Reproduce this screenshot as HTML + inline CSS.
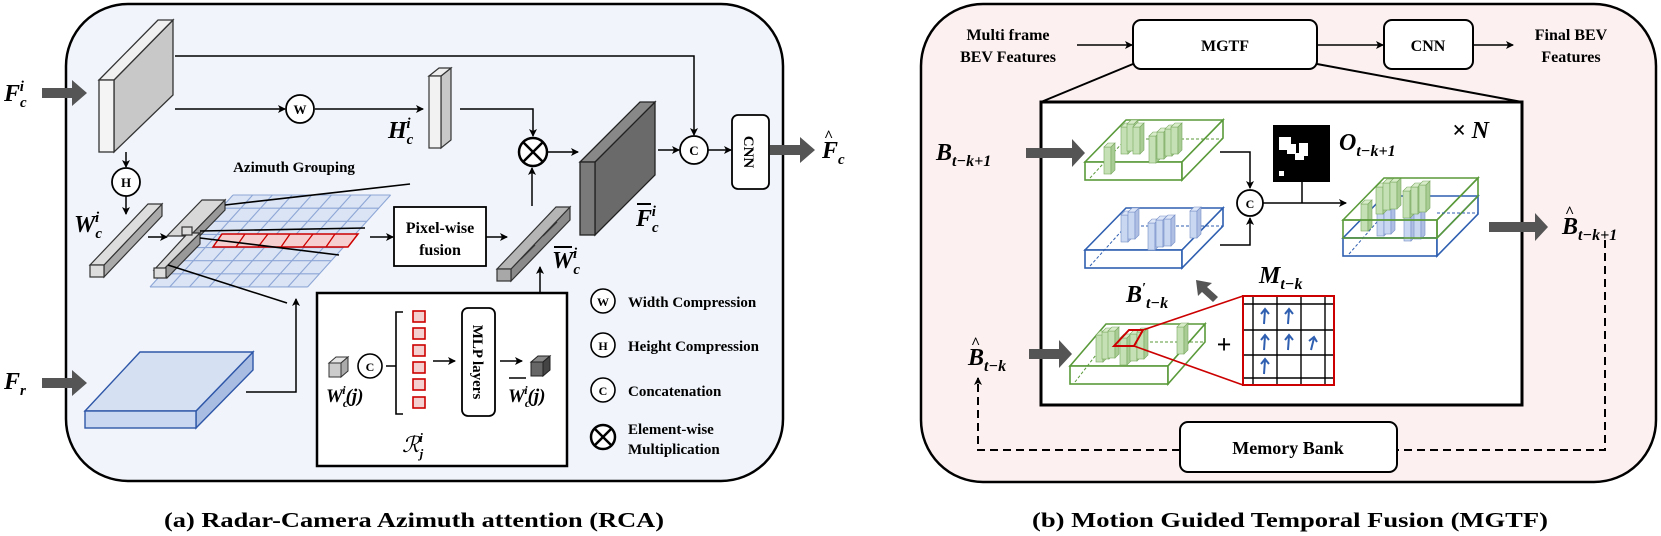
<!DOCTYPE html>
<html><head><meta charset="utf-8"><style>
html,body{margin:0;padding:0;background:#fff;}
svg{display:block;font-family:"Liberation Serif","Times New Roman",serif;}
text{font-family:"Liberation Serif","Times New Roman",serif;}
.b{font-weight:bold;}
.m{font-weight:bold;font-style:italic;}
</style></head><body>
<svg width="1661" height="536" viewBox="0 0 1661 536" xmlns="http://www.w3.org/2000/svg" font-family="Liberation Serif, serif">
<defs>
<marker id="ar" markerWidth="8" markerHeight="8" refX="7" refY="4" orient="auto" markerUnits="userSpaceOnUse"><path d="M0,0 L8,4 L0,8 L2,4 Z" fill="#000"/></marker>
<g id="gbar"><rect x="0" y="-5" width="7" height="27" fill="#c5e0b4" stroke="#7aa860" stroke-width="0.6"/><polygon points="0,-5 4,-9 11,-9 7,-5" fill="#d9ecca" stroke="#7aa860" stroke-width="0.6"/><polygon points="7,-5 11,-9 11,18 7,22" fill="#a9cc95" stroke="#7aa860" stroke-width="0.6"/></g>
<g id="bbar"><rect x="0" y="-5" width="7" height="27" fill="#c9d7f0" stroke="#7890c8" stroke-width="0.6"/><polygon points="0,-5 4,-9 11,-9 7,-5" fill="#dde6f7" stroke="#7890c8" stroke-width="0.6"/><polygon points="7,-5 11,-9 11,18 7,22" fill="#aebfe3" stroke="#7890c8" stroke-width="0.6"/></g>
</defs>

<!-- LEFT PANEL -->
<rect x="66" y="4" width="717" height="477" rx="62" fill="#f1f5fb" stroke="#000" stroke-width="2.5"/>
<text x="4" y="101" class="m" font-size="24">F<tspan font-size="15" dy="6">c</tspan><tspan font-size="15" dx="-7" dy="-16">i</tspan></text>
<polygon points="42,88 72,88 72,80 87,93 72,106 72,98 42,98" fill="#555"/>
<text x="4" y="389" class="m" font-size="24">F<tspan font-size="15" dy="6">r</tspan></text>
<polygon points="42,378 72,378 72,370 87,383 72,396 72,388 42,388" fill="#555"/>

<polygon points="114,80 173,20 173,95 114,152" fill="#c8c8c8" stroke="#333" stroke-width="1.3"/>
<polygon points="99,80 158,20 173,20 114,80" fill="#f0f0f0" stroke="#333" stroke-width="1.3"/>
<rect x="99" y="80" width="15" height="72" fill="#f4f4f4" stroke="#333" stroke-width="1.3"/>

<polyline points="175,56 694,56 694,135" fill="none" stroke="#000" stroke-width="1.5" marker-end="url(#ar)"/>
<line x1="175" y1="109" x2="285" y2="109" stroke="#000" stroke-width="1.5" marker-end="url(#ar)"/>
<circle cx="300" cy="109" r="14" fill="#fff" stroke="#000" stroke-width="1.8"/>
<text x="300" y="114" text-anchor="middle" font-size="13" class="b">W</text>
<line x1="315" y1="109" x2="423" y2="109" stroke="#000" stroke-width="1.5" marker-end="url(#ar)"/>
<polygon points="441,76 451,68 451,140 441,148" fill="#c8c8c8" stroke="#333" stroke-width="1.2"/>
<polygon points="429,76 439,68 451,68 441,76" fill="#eee" stroke="#333" stroke-width="1.2"/>
<rect x="429" y="76" width="12" height="72" fill="#f2f2f2" stroke="#333" stroke-width="1.2"/>
<text x="388" y="138" class="m" font-size="24">H<tspan font-size="15" dy="6">c</tspan><tspan font-size="15" dx="-7" dy="-16">i</tspan></text>
<polyline points="460,109 533,109 533,136" fill="none" stroke="#000" stroke-width="1.5" marker-end="url(#ar)"/>
<circle cx="533" cy="152" r="14" fill="#fff" stroke="#000" stroke-width="2.5"/>
<line x1="523" y1="142" x2="543" y2="162" stroke="#000" stroke-width="2.5"/>
<line x1="543" y1="142" x2="523" y2="162" stroke="#000" stroke-width="2.5"/>
<line x1="548" y1="152" x2="578" y2="152" stroke="#000" stroke-width="1.5" marker-end="url(#ar)"/>
<polygon points="595,162 655,102 655,175 595,235" fill="#6a6a6a" stroke="#222" stroke-width="1.3"/>
<polygon points="580,162 640,102 655,102 595,162" fill="#888" stroke="#222" stroke-width="1.3"/>
<rect x="580" y="162" width="15" height="73" fill="#7a7a7a" stroke="#222" stroke-width="1.3"/>
<text x="636" y="226" class="m" font-size="24">F<tspan font-size="15" dy="6">c</tspan><tspan font-size="15" dx="-7" dy="-16">i</tspan></text>
<line x1="637" y1="204" x2="651" y2="204" stroke="#000" stroke-width="2"/>
<line x1="658" y1="150" x2="679" y2="150" stroke="#000" stroke-width="1.5" marker-end="url(#ar)"/>
<circle cx="694" cy="150" r="14" fill="#fff" stroke="#000" stroke-width="1.8"/>
<text x="694" y="155" text-anchor="middle" font-size="13" class="b">C</text>
<line x1="708" y1="150" x2="731" y2="150" stroke="#000" stroke-width="1.5" marker-end="url(#ar)"/>
<rect x="732" y="115" width="37" height="74" rx="6" fill="#fff" stroke="#000" stroke-width="1.8"/>
<text x="0" y="0" transform="translate(744,152) rotate(90)" text-anchor="middle" font-size="15" class="b">CNN</text>
<polygon points="770,145 800,145 800,137 815,150 800,163 800,155 770,155" fill="#555"/>
<text x="822" y="158" class="m" font-size="24">F<tspan font-size="15" dy="6">c</tspan></text>
<text x="824" y="141" class="b" font-size="16">^</text>

<line x1="126" y1="152" x2="126" y2="167" stroke="#000" stroke-width="1.5" marker-end="url(#ar)"/>
<circle cx="126" cy="182" r="14" fill="#fff" stroke="#000" stroke-width="1.8"/>
<text x="126" y="187" text-anchor="middle" font-size="13" class="b">H</text>
<line x1="126" y1="196" x2="126" y2="214" stroke="#000" stroke-width="1.5" marker-end="url(#ar)"/>
<polygon points="104,265 162,204 162,216 104,277" fill="#aaa" stroke="#333" stroke-width="1.2"/>
<polygon points="90,265 148,204 162,204 104,265" fill="#ddd" stroke="#333" stroke-width="1.2"/>
<rect x="90" y="265" width="14" height="12" fill="#ddd" stroke="#333" stroke-width="1.2"/>
<text x="74" y="232" class="m" font-size="24">W<tspan font-size="15" dy="6">c</tspan><tspan font-size="15" dx="-7" dy="-16">i</tspan></text>
<line x1="148" y1="237" x2="167" y2="237" stroke="#000" stroke-width="1.5" marker-end="url(#ar)"/>

<text x="294" y="172" text-anchor="middle" font-size="15" class="b">Azimuth Grouping</text>
<g transform="matrix(19.7,0,-11.86,13.14,233,195)">
<polygon points="0,0 8,0 8,7 0,7" fill="#d5e0f3" fill-opacity="0.8"/>
<g stroke="#8ea6d6" stroke-width="1.1" fill="none">
<line x1="0" y1="0" x2="8" y2="0" vector-effect="non-scaling-stroke"/><line x1="0" y1="1" x2="8" y2="1" vector-effect="non-scaling-stroke"/><line x1="0" y1="2" x2="8" y2="2" vector-effect="non-scaling-stroke"/><line x1="0" y1="3" x2="8" y2="3" vector-effect="non-scaling-stroke"/><line x1="0" y1="4" x2="8" y2="4" vector-effect="non-scaling-stroke"/><line x1="0" y1="5" x2="8" y2="5" vector-effect="non-scaling-stroke"/><line x1="0" y1="6" x2="8" y2="6" vector-effect="non-scaling-stroke"/><line x1="0" y1="7" x2="8" y2="7" vector-effect="non-scaling-stroke"/>
<line x1="0" y1="0" x2="0" y2="7" vector-effect="non-scaling-stroke"/><line x1="1" y1="0" x2="1" y2="7" vector-effect="non-scaling-stroke"/><line x1="2" y1="0" x2="2" y2="7" vector-effect="non-scaling-stroke"/><line x1="3" y1="0" x2="3" y2="7" vector-effect="non-scaling-stroke"/><line x1="4" y1="0" x2="4" y2="7" vector-effect="non-scaling-stroke"/><line x1="5" y1="0" x2="5" y2="7" vector-effect="non-scaling-stroke"/><line x1="6" y1="0" x2="6" y2="7" vector-effect="non-scaling-stroke"/><line x1="7" y1="0" x2="7" y2="7" vector-effect="non-scaling-stroke"/><line x1="8" y1="0" x2="8" y2="7" vector-effect="non-scaling-stroke"/>
</g></g>
<polygon points="222,234 358,234 348,247 213,247" fill="#f6d0d0" stroke="#cc0000" stroke-width="1.5"/>
<g stroke="#cc0000" stroke-width="1.3"><line x1="245" y1="234" x2="236" y2="247"/><line x1="268" y1="234" x2="258" y2="247"/><line x1="290" y1="234" x2="281" y2="247"/><line x1="313" y1="234" x2="303" y2="247"/><line x1="335" y1="234" x2="326" y2="247"/></g>
<polygon points="202,200 225,200 190,236 167,236" fill="#d8d8d8" stroke="#333" stroke-width="1.2"/>
<polygon points="225,200 225,210 190,246 190,236" fill="#999" stroke="#333" stroke-width="1.2"/>
<polygon points="188,233 200,233 163,270 154,270" fill="#d8d8d8" stroke="#333" stroke-width="1.2"/>
<polygon points="200,233 200,244 167,278 163,270" fill="#999" stroke="#333" stroke-width="1.2"/>
<rect x="154" y="268" width="12" height="10" fill="#ddd" stroke="#333" stroke-width="1.2"/>
<rect x="182" y="227" width="10" height="8" fill="#ddd" stroke="#333" stroke-width="1.2"/>
<g stroke="#000" stroke-width="1.6"><line x1="225" y1="205" x2="410" y2="184"/><line x1="200" y1="231" x2="365" y2="228"/><line x1="200" y1="238" x2="339" y2="255"/><line x1="168" y1="265" x2="287" y2="303"/></g>
<line x1="370" y1="237" x2="393" y2="237" stroke="#000" stroke-width="1.5" marker-end="url(#ar)"/>
<rect x="394" y="207" width="92" height="59" fill="#fff" stroke="#000" stroke-width="1.8"/>
<text x="440" y="233" text-anchor="middle" font-size="16" class="b">Pixel-wise</text>
<text x="440" y="255" text-anchor="middle" font-size="16" class="b">fusion</text>
<line x1="486" y1="237" x2="507" y2="237" stroke="#000" stroke-width="1.5" marker-end="url(#ar)"/>
<polygon points="511,269 570,207 570,220 511,281" fill="#8a8a8a" stroke="#333" stroke-width="1.2"/>
<polygon points="497,269 556,207 570,207 511,269" fill="#b5b5b5" stroke="#333" stroke-width="1.2"/>
<rect x="497" y="269" width="14" height="12" fill="#a8a8a8" stroke="#333" stroke-width="1.2"/>
<line x1="521" y1="259" x2="535" y2="245" stroke="#333" stroke-width="1.2"/>
<line x1="543" y1="236" x2="557" y2="222" stroke="#333" stroke-width="1.2"/>
<text x="552" y="268" class="m" font-size="24">W<tspan font-size="15" dy="6">c</tspan><tspan font-size="15" dx="-7" dy="-16">i</tspan></text>
<line x1="554" y1="247" x2="572" y2="247" stroke="#000" stroke-width="2"/>
<line x1="532" y1="206" x2="532" y2="168" stroke="#000" stroke-width="1.5" marker-end="url(#ar)"/>
<line x1="540" y1="351" x2="540" y2="267" stroke="#000" stroke-width="1.5" marker-end="url(#ar)"/>

<polygon points="196,411 253,352 253,370 196,428" fill="#a9bde3" stroke="#2f57a8" stroke-width="1.4"/>
<polygon points="85,411 140,352 253,352 196,411" fill="#d5e0f3" stroke="#2f57a8" stroke-width="1.4"/>
<rect x="85" y="411" width="111" height="17" fill="#c9d7f0" stroke="#2f57a8" stroke-width="1.4"/>
<polyline points="246,392 296,392 296,299" fill="none" stroke="#000" stroke-width="1.5" marker-end="url(#ar)"/>

<rect x="317" y="293" width="250" height="173" fill="#fff" stroke="#000" stroke-width="2.5"/>
<polygon points="329,363 336,357 348,357 341,363" fill="#e6e6e6" stroke="#333"/>
<polygon points="341,363 348,357 348,371 341,377" fill="#aaa" stroke="#333"/>
<rect x="329" y="363" width="12" height="14" fill="#ccc" stroke="#333"/>
<circle cx="370" cy="366" r="12" fill="#fff" stroke="#000" stroke-width="1.6"/>
<text x="370" y="371" text-anchor="middle" font-size="12" class="b">C</text>
<text x="326" y="402" class="m" font-size="19">W<tspan font-size="12" dy="5">c</tspan><tspan font-size="12" dx="-6" dy="-13">i</tspan><tspan font-size="19" dy="8" font-style="italic">(j)</tspan></text>
<path d="M403,312 L396,312 L396,414 L403,414 M396,366 L386,366" fill="none" stroke="#000" stroke-width="1.6"/>
<g fill="#f5d0d0" stroke="#cc0000" stroke-width="1.6">
<rect x="413" y="311" width="12" height="11"/><rect x="413" y="328" width="12" height="11"/><rect x="413" y="345" width="12" height="11"/><rect x="413" y="362" width="12" height="11"/><rect x="413" y="379" width="12" height="11"/><rect x="413" y="397" width="12" height="11"/></g>
<line x1="433" y1="361" x2="455" y2="361" stroke="#000" stroke-width="1.5" marker-end="url(#ar)"/>
<rect x="462" y="308" width="33" height="108" rx="6" fill="#fff" stroke="#000" stroke-width="1.8"/>
<text transform="translate(473,362) rotate(90)" text-anchor="middle" font-size="15" class="b">MLP layers</text>
<line x1="500" y1="361" x2="522" y2="361" stroke="#000" stroke-width="1.5" marker-end="url(#ar)"/>
<polygon points="531,362 538,356 550,356 543,362" fill="#888" stroke="#222"/>
<polygon points="543,362 550,356 550,370 543,376" fill="#444" stroke="#222"/>
<rect x="531" y="362" width="12" height="14" fill="#666" stroke="#222"/>
<text x="508" y="402" class="m" font-size="19">W<tspan font-size="12" dy="5">c</tspan><tspan font-size="12" dx="-6" dy="-13">i</tspan><tspan font-size="19" dy="8" font-style="italic">(j)</tspan></text>
<line x1="509" y1="378" x2="526" y2="378" stroke="#000" stroke-width="1.5"/>
<text x="402" y="452" font-size="22" font-style="italic" font-family="DejaVu Serif,serif">ℛ<tspan font-size="13" dy="6" class="m">j</tspan><tspan font-size="13" dx="-4" dy="-16" class="m">i</tspan></text>

<circle cx="603" cy="301" r="12" fill="#fff" stroke="#000" stroke-width="1.6"/><text x="603" y="306" text-anchor="middle" font-size="12" class="b">W</text>
<text x="628" y="307" font-size="15" class="b">Width Compression</text>
<circle cx="603" cy="345" r="12" fill="#fff" stroke="#000" stroke-width="1.6"/><text x="603" y="350" text-anchor="middle" font-size="12" class="b">H</text>
<text x="628" y="351" font-size="15" class="b">Height Compression</text>
<circle cx="603" cy="390" r="12" fill="#fff" stroke="#000" stroke-width="1.6"/><text x="603" y="395" text-anchor="middle" font-size="12" class="b">C</text>
<text x="628" y="396" font-size="15" class="b">Concatenation</text>
<circle cx="603" cy="437" r="12" fill="#fff" stroke="#000" stroke-width="2.5"/>
<line x1="595" y1="429" x2="611" y2="445" stroke="#000" stroke-width="2.5"/><line x1="611" y1="429" x2="595" y2="445" stroke="#000" stroke-width="2.5"/>
<text x="628" y="434" font-size="15" class="b">Element-wise</text>
<text x="628" y="454" font-size="15" class="b">Multiplication</text>

<text x="414" y="527" text-anchor="middle" font-size="21" class="b" textLength="500" lengthAdjust="spacingAndGlyphs">(a) Radar-Camera Azimuth attention (RCA)</text>

<!-- RIGHT PANEL -->
<rect x="921" y="4" width="735" height="478" rx="62" fill="#fcf0f0" stroke="#000" stroke-width="2.5"/>
<text x="1008" y="40" text-anchor="middle" font-size="16" class="b">Multi frame</text>
<text x="1008" y="62" text-anchor="middle" font-size="16" class="b">BEV Features</text>
<line x1="1077" y1="45" x2="1132" y2="45" stroke="#000" stroke-width="1.5" marker-end="url(#ar)"/>
<rect x="1133" y="20" width="184" height="49" rx="8" fill="#fff" stroke="#000" stroke-width="2"/>
<text x="1225" y="51" text-anchor="middle" font-size="16" class="b">MGTF</text>
<line x1="1317" y1="45" x2="1383" y2="45" stroke="#000" stroke-width="1.5" marker-end="url(#ar)"/>
<rect x="1384" y="20" width="89" height="49" rx="8" fill="#fff" stroke="#000" stroke-width="2"/>
<text x="1428" y="51" text-anchor="middle" font-size="16" class="b">CNN</text>
<line x1="1473" y1="45" x2="1513" y2="45" stroke="#000" stroke-width="1.5" marker-end="url(#ar)"/>
<text x="1571" y="40" text-anchor="middle" font-size="16" class="b">Final BEV</text>
<text x="1571" y="62" text-anchor="middle" font-size="16" class="b">Features</text>
<line x1="1133" y1="64" x2="1041" y2="102" stroke="#000" stroke-width="2"/>
<line x1="1317" y1="64" x2="1522" y2="102" stroke="#000" stroke-width="2"/>
<rect x="1041" y="102" width="481" height="303" fill="#fff" stroke="#000" stroke-width="3"/>

<text x="936" y="160" class="m" font-size="24">B<tspan font-size="16" dy="6">t−k+1</tspan></text>
<polygon points="1026,148 1072,148 1072,139 1085,153 1072,167 1072,158 1026,158" fill="#555"/>
<g fill="none" stroke="#5a9a3a" stroke-width="1.6">
<polygon points="1085,162 1126,120 1223,120 1182,162" fill="#fff"/>
<rect x="1085" y="162" width="97" height="18" fill="#fff"/>
<polygon points="1182,162 1223,120 1223,138 1182,180" fill="#fff"/>
<line x1="1126" y1="139" x2="1223" y2="139" stroke-dasharray="3,2" stroke-width="1"/>
<line x1="1090" y1="178" x2="1126" y2="139" stroke-dasharray="3,2" stroke-width="1"/>
</g>
<use href="#gbar" x="1104" y="152"/><use href="#gbar" x="1121" y="132"/><use href="#gbar" x="1127" y="129"/><use href="#gbar" x="1133" y="132"/><use href="#gbar" x="1149" y="141"/><use href="#gbar" x="1157" y="137"/><use href="#gbar" x="1165" y="134"/><use href="#gbar" x="1171" y="132"/>
<g fill="none" stroke="#2f5fb0" stroke-width="1.6">
<polygon points="1085,250 1126,208 1223,208 1182,250" fill="#fff"/>
<rect x="1085" y="250" width="97" height="18" fill="#fff"/>
<polygon points="1182,250 1223,208 1223,226 1182,268" fill="#fff"/>
<line x1="1126" y1="226" x2="1223" y2="226" stroke-dasharray="3,2" stroke-width="1"/>
<line x1="1090" y1="266" x2="1126" y2="226" stroke-dasharray="3,2" stroke-width="1"/>
</g>
<use href="#bbar" x="1121" y="220"/><use href="#bbar" x="1128" y="217"/><use href="#bbar" x="1148" y="228"/><use href="#bbar" x="1156" y="225"/><use href="#bbar" x="1164" y="224"/><use href="#bbar" x="1190" y="216"/>
<polyline points="1220,152 1250,152 1250,188" fill="none" stroke="#000" stroke-width="1.5" marker-end="url(#ar)"/>
<polyline points="1220,245 1250,245 1250,218" fill="none" stroke="#000" stroke-width="1.5" marker-end="url(#ar)"/>
<circle cx="1250" cy="203" r="13" fill="#fff" stroke="#000" stroke-width="1.8"/>
<text x="1250" y="208" text-anchor="middle" font-size="12" class="b">C</text>
<line x1="1263" y1="203" x2="1346" y2="203" stroke="#000" stroke-width="1.5" marker-end="url(#ar)"/>
<line x1="1302" y1="182" x2="1302" y2="203" stroke="#000" stroke-width="1.5"/>
<rect x="1273" y="125" width="57" height="57" fill="#000"/>
<path d="M1279,137 h12 v7 h5 v10 h-9 v-4 h-8 Z M1299,143 h9 v13 h-4 v4 h-9 v-7 h4 Z" fill="#fff"/>
<rect x="1279" y="171" width="5" height="5" fill="#fff"/>
<text x="1339" y="150" class="m" font-size="24">O<tspan font-size="16" dy="6">t−k+1</tspan></text>
<text x="1452" y="138" font-size="24" class="m">× N</text>
<g fill="none" stroke-width="1.6">
<polygon points="1343,238 1384,196 1478,196 1437,238" fill="#fff" stroke="#2f5fb0"/>
<rect x="1343" y="238" width="94" height="18" fill="#fff" stroke="#2f5fb0"/>
<polygon points="1437,238 1478,196 1478,214 1437,256" fill="#fff" stroke="#2f5fb0"/>
<line x1="1349" y1="254" x2="1384" y2="214" stroke="#2f5fb0" stroke-dasharray="3,2" stroke-width="1"/>
</g>
<use href="#bbar" x="1377" y="214"/><use href="#bbar" x="1384" y="212"/><use href="#bbar" x="1404" y="219"/><use href="#bbar" x="1414" y="217"/>
<use href="#gbar" x="1376" y="192"/><use href="#gbar" x="1383" y="188"/><use href="#gbar" x="1390" y="187"/><use href="#gbar" x="1403" y="196"/><use href="#gbar" x="1411" y="192"/><use href="#gbar" x="1419" y="190"/><use href="#gbar" x="1361" y="209"/>
<g fill="none" stroke="#5a9a3a" stroke-width="1.6">
<polygon points="1343,220 1384,178 1478,178 1437,220"/>
<rect x="1343" y="220" width="94" height="18"/>
<polygon points="1437,220 1478,178 1478,196 1437,238"/>
</g>
<line x1="1437" y1="213" x2="1478" y2="213" stroke="#2f5fb0" stroke-dasharray="3,2" stroke-width="1"/>
<polygon points="1489,222 1535,222 1535,213 1548,227 1535,241 1535,232 1489,232" fill="#555"/>
<text x="1562" y="234" class="m" font-size="24">B<tspan font-size="16" dy="6">t−k+1</tspan></text>
<text x="1565" y="217" class="b" font-size="16">^</text>

<text x="968" y="365" class="m" font-size="24">B<tspan font-size="16" dy="6">t−k</tspan></text>
<text x="971" y="348" class="b" font-size="16">^</text>
<polygon points="1029,349 1059,349 1059,340 1072,354 1059,368 1059,359 1029,359" fill="#555"/>
<g fill="none" stroke="#5a9a3a" stroke-width="1.6">
<polygon points="1070,366 1106,324 1205,324 1168,366" fill="#fff"/>
<rect x="1070" y="366" width="98" height="18" fill="#fff"/>
<polygon points="1168,366 1205,324 1205,342 1168,384" fill="#fff"/>
<line x1="1140" y1="342" x2="1205" y2="342" stroke-dasharray="3,2" stroke-width="1"/>
<line x1="1075" y1="382" x2="1106" y2="342" stroke-dasharray="3,2" stroke-width="1"/>
</g>
<use href="#gbar" x="1096" y="340"/><use href="#gbar" x="1102" y="337"/><use href="#gbar" x="1108" y="336"/><use href="#gbar" x="1120" y="343"/><use href="#gbar" x="1130" y="339"/><use href="#gbar" x="1137" y="337"/><use href="#gbar" x="1177" y="332"/>
<polygon points="1114,346 1129,330 1143,330 1134,346" fill="none" stroke="#cc0000" stroke-width="2"/>
<line x1="1143" y1="330" x2="1243" y2="296" stroke="#cc0000" stroke-width="1.6"/>
<line x1="1134" y1="346" x2="1243" y2="385" stroke="#cc0000" stroke-width="1.6"/>
<text x="1126" y="302" class="m" font-size="24">B<tspan font-size="14" dy="-10">′</tspan><tspan font-size="16" dy="16">t−k</tspan></text>
<polygon points="1196,280 1212,283 1207,287 1218,297 1213,302 1202,292 1198,296" fill="#555"/>
<text x="1259" y="283" class="m" font-size="24">M<tspan font-size="16" dy="6">t−k</tspan></text>
<text x="1224" y="353" text-anchor="middle" font-size="26" class="b">+</text>
<rect x="1243" y="296" width="91" height="89" fill="#fff" stroke="#cc0000" stroke-width="2"/>
<g stroke="#000" stroke-width="1.4">
<line x1="1253" y1="297" x2="1253" y2="384"/><line x1="1277" y1="297" x2="1277" y2="384"/><line x1="1301" y1="297" x2="1301" y2="384"/><line x1="1325" y1="297" x2="1325" y2="384"/>
<line x1="1244" y1="304" x2="1333" y2="304"/><line x1="1244" y1="330" x2="1333" y2="330"/><line x1="1244" y1="355" x2="1333" y2="355"/><line x1="1244" y1="378" x2="1333" y2="378"/>
</g>
<g stroke="#2f5fb0" stroke-width="2" fill="none">
<path d="M1264,324 L1265,310 M1261,314 L1265,309 L1269,314"/><path d="M1288,324 L1289,310 M1285,314 L1289,309 L1293,314"/>
<path d="M1264,350 L1265,336 M1261,340 L1265,335 L1269,340"/><path d="M1288,350 L1289,336 M1285,340 L1289,335 L1293,340"/><path d="M1311,350 L1314,338 M1309,341 L1314,337 L1317,342"/>
<path d="M1264,374 L1265,360 M1261,364 L1265,359 L1269,364"/>
</g>

<polyline points="1605,240 1605,450 1397,450" fill="none" stroke="#000" stroke-width="2" stroke-dasharray="8,5"/>
<rect x="1180" y="422" width="217" height="50" rx="8" fill="#fff" stroke="#000" stroke-width="2"/>
<text x="1288" y="454" text-anchor="middle" font-size="18" class="b">Memory Bank</text>
<polyline points="1180,450 978,450 978,378" fill="none" stroke="#000" stroke-width="2" stroke-dasharray="8,5" marker-end="url(#ar)"/>

<text x="1290" y="527" text-anchor="middle" font-size="21" class="b" textLength="516" lengthAdjust="spacingAndGlyphs">(b) Motion Guided Temporal Fusion (MGTF)</text>
</svg>
</body></html>
